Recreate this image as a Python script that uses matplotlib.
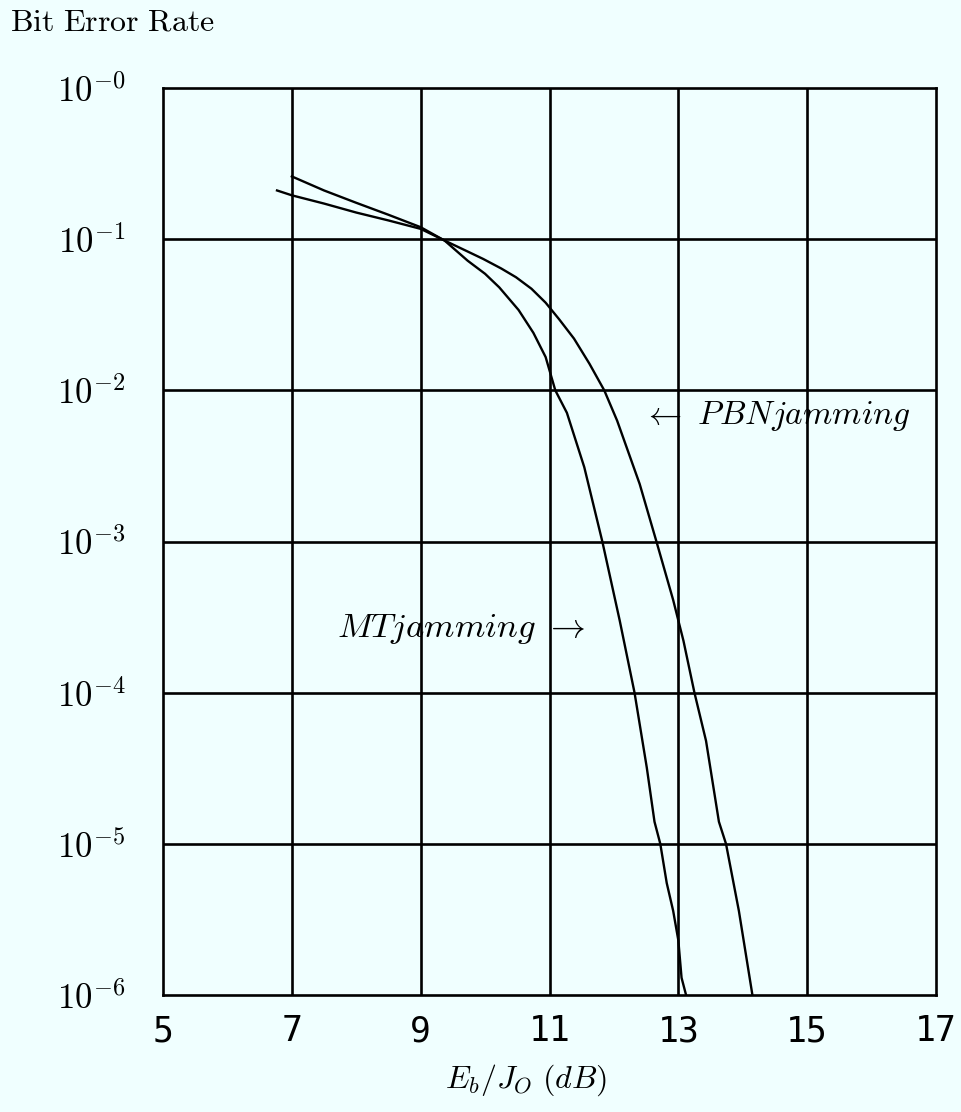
import matplotlib
matplotlib.use("Agg")
import matplotlib.pyplot as plt
import numpy as np

plt.rcParams['mathtext.fontset'] = 'cm'

# Data (x in dB, BER)
mt_x = [7.0, 7.5, 8.0, 8.5, 9.0, 9.37, 9.73, 10.0, 10.22, 10.52, 10.75, 10.94, 11.09,
        11.27, 11.54, 11.82, 12.09, 12.32, 12.51, 12.63, 12.72, 12.82, 12.92, 13.0,
        13.05, 13.12]
mt_ber = [2.6e-1, 2.1e-1, 1.74e-1, 1.45e-1, 1.2e-1, 9.8e-2, 7.2e-2, 5.9e-2, 4.8e-2,
          3.4e-2, 2.4e-2, 1.66e-2, 1.0e-2, 7.1e-3, 3.1e-3, 1.0e-3, 3.0e-4, 1.0e-4,
          3.2e-5, 1.4e-5, 1.0e-5, 5.5e-6, 3.6e-6, 2.3e-6, 1.3e-6, 1.0e-6]

pbn_x = [6.77, 7.0, 7.5, 8.0, 8.5, 9.0, 9.37, 9.7, 9.97, 10.25, 10.48, 10.72, 10.94,
         11.15, 11.38, 11.62, 11.85, 12.05, 12.40, 12.66, 12.92, 13.08, 13.25,
         13.43, 13.63, 13.74, 13.94, 14.15]
pbn_ber = [2.1e-1, 1.95e-1, 1.72e-1, 1.5e-1, 1.33e-1, 1.17e-1, 9.8e-2, 8.4e-2, 7.4e-2,
           6.4e-2, 5.6e-2, 4.7e-2, 3.8e-2, 2.95e-2, 2.2e-2, 1.5e-2, 1.0e-2, 6.3e-3,
           2.4e-3, 1.0e-3, 4.1e-4, 2.2e-4, 1.0e-4, 4.8e-5, 1.4e-5, 1.0e-5,
           3.6e-6, 1.0e-6]

x_ticks = [5, 7, 9, 11, 13, 15, 17]
x_grid = [7, 9, 11, 13, 15]
y_ticks = [1e0, 1e-1, 1e-2, 1e-3, 1e-4, 1e-5, 1e-6]
y_labels = [r'$10^{-0}$', r'$10^{-1}$', r'$10^{-2}$', r'$10^{-3}$',
            r'$10^{-4}$', r'$10^{-5}$', r'$10^{-6}$']

bg = '#f0ffff'
fig = plt.figure(figsize=(9.62, 11.12), dpi=100, facecolor=bg)
ax = fig.add_axes([163/962, 1-995/1112, (936-163)/962, (995-88)/1112])
ax.set_facecolor(bg)
ax.set_yscale('log')
ax.set_xlim(5, 17)
ax.set_ylim(1e-6, 1)

for xv in x_grid:
    ax.axvline(xv, color='black', lw=1.9, zorder=1)
for yv in y_ticks[1:-1]:
    ax.axhline(yv, color='black', lw=1.9, zorder=1)

ax.plot(mt_x, mt_ber, color='black', lw=1.7, zorder=3)
ax.plot(pbn_x, pbn_ber, color='black', lw=1.7, zorder=3)

for s in ax.spines.values():
    s.set_linewidth(1.9)
    s.set_color('black')

ax.set_xticks(x_ticks)
ax.set_xticklabels([str(v) for v in x_ticks], family='DejaVu Sans Mono', fontsize=25)
ax.set_yticks(y_ticks)
ax.set_yticklabels(y_labels, fontsize=25)
ax.yaxis.set_minor_locator(matplotlib.ticker.NullLocator())
ax.tick_params(axis='both', which='both', length=0)
ax.tick_params(axis='y', pad=27)
ax.tick_params(axis='x', pad=14)

ax.text(12.45, 10**-2.17, r'$\leftarrow\ PBNjamming$', fontsize=24,
        ha='left', va='center', zorder=4)
ax.text(7.70, 10**-3.58, r'$MTjamming\ \rightarrow$', fontsize=25,
        ha='left', va='center', zorder=4)

fig.text(10/962, 1-22/1112, r'$\mathrm{Bit\ Error\ Rate}$', fontsize=23,
         ha='left', va='center')
fig.text(526/962, 1-1080/1112, r'$E_b/J_O\ (dB)$', fontsize=23,
         ha='center', va='center')

fig.savefig('out.png', dpi=100, facecolor=bg)
